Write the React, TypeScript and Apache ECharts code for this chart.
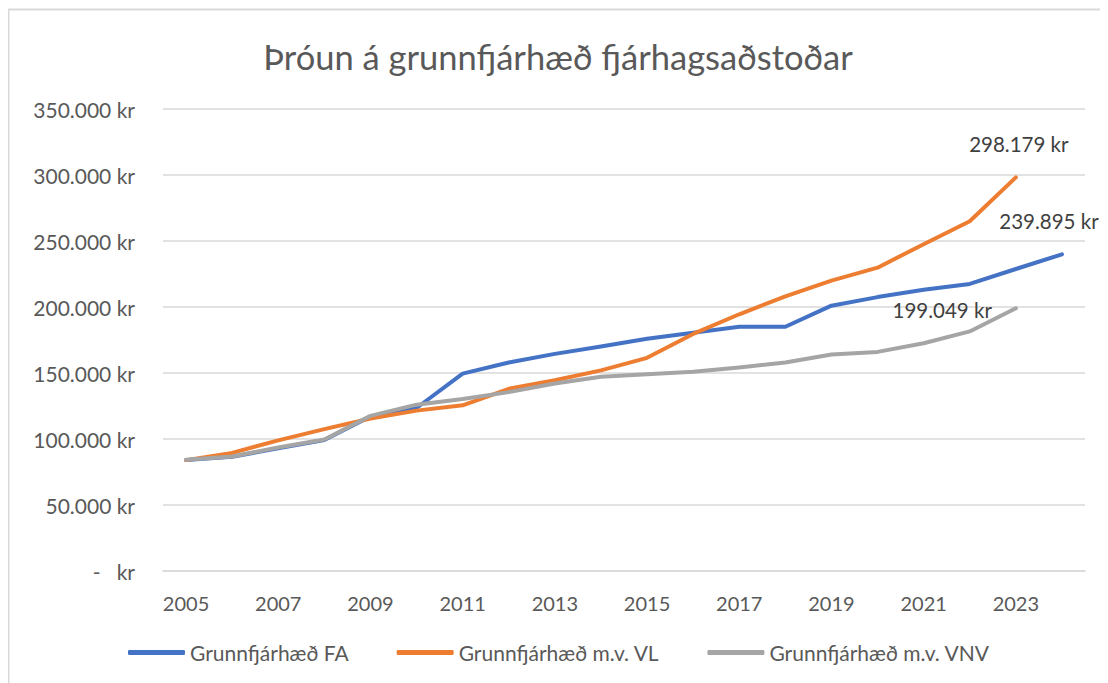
import React, { useEffect, useRef } from "react";
import * as echarts from "echarts";

const years = ["2005","2006","2007","2008","2009","2010","2011","2012","2013","2014","2015","2016","2017","2018","2019","2020","2021","2022","2023","2024"];
const seriesFA = [84000, 86500, 93000, 99300, 117000, 123500, 149500, 158000, 164500, 170000, 176000, 180500, 185000, 185000, 201000, 207500, 213000, 217500, 228800, 239895];
const seriesVL = [84000, 89500, 99000, 107500, 115500, 121500, 125500, 138000, 144500, 152000, 161500, 179600, 194500, 208000, 220000, 229800, 247600, 265000, 298179];
const seriesVNV = [84300, 86800, 93500, 99600, 117500, 126000, 130300, 135500, 142000, 147200, 149000, 151000, 154200, 158000, 164000, 166000, 172500, 181500, 199049];
const names = ["Grunnfjárhæð FA", "Grunnfjárhæð m.v. VL", "Grunnfjárhæð m.v. VNV"];
const colors = ["#4472C4", "#ED7D31", "#A5A5A5"];

const FONT = "Lato";

function fmt(v: number): string {
  if (v === 0) return "-   kr";
  const s = Math.round(v).toString().replace(/\B(?=(\d{3})+(?!\d))/g, ".");
  return s + " kr";
}

function withLastLabel(vals: number[], label: any) {
  return vals.map((v, i) =>
    i === vals.length - 1 ? { value: v, label: { show: true, ...label } } : v
  );
}

export default function App() {
  const ref = useRef<HTMLDivElement>(null);
  useEffect(() => {
    if (!ref.current) return;
    const chart = echarts.init(ref.current, undefined, { renderer: "svg" });
    const labelBase = {
      formatter: (p: any) => fmt(p.value),
      color: "#404040",
      fontSize: 20.5,
      fontFamily: FONT,
    };
    const lineSeries = (idx: number, vals: number[], label: any) => ({
      name: names[idx],
      type: "line",
      data: withLastLabel(vals, { ...labelBase, ...label }),
      showSymbol: true,
      symbol: "circle",
      symbolSize: 0,
      lineStyle: { color: colors[idx], width: 4, cap: "round", join: "round" },
      itemStyle: { color: colors[idx] },
      emphasis: { disabled: true },
      z: 3 + idx,
    });
    chart.setOption({
      animation: false,
      backgroundColor: "#ffffff",
      title: {
        text: "Þróun á grunnfjárhæð fjárhagsaðstoðar",
        left: "center",
        top: 26,
        textStyle: { fontFamily: FONT, fontSize: 34.5, fontWeight: "normal", color: "#595959" },
      },
      grid: { left: 155, right: 23, top: 101, bottom: 112 },
      legend: {
        data: names,
        bottom: 15,
        left: 115,
        itemWidth: 57,
        itemHeight: 5,
        itemGap: 48,
        icon: "roundRect",
        textStyle: { fontFamily: FONT, fontSize: 21, color: "#595959" },
      },
      xAxis: {
        type: "category",
        data: years,
        boundaryGap: true,
        axisLine: { lineStyle: { color: "#D9D9D9", width: 1.5 } },
        axisTick: { show: false },
        axisLabel: { interval: 1, margin: 22, fontFamily: FONT, fontSize: 20, color: "#595959" },
      },
      yAxis: {
        type: "value",
        min: 0,
        max: 350000,
        interval: 50000,
        axisLine: { show: false },
        axisTick: { show: false },
        splitLine: { lineStyle: { color: "#D9D9D9", width: 1.5 } },
        axisLabel: { margin: 28, fontFamily: FONT, fontSize: 21, color: "#595959", formatter: fmt },
      },
      graphic: [
        {
          type: "polyline",
          shape: { points: [[0.5, 1200], [0.5, 1.5], [1200, 1.5]] },
          style: { stroke: "#D9D9D9", lineWidth: 2, fill: "none" },
          silent: true,
        },
      ],
      series: [
        lineSeries(0, seriesFA, { position: "top", distance: 5, offset: [-13, -18] }),
        lineSeries(1, seriesVL, { position: "top", distance: 5, offset: [3, -18] }),
        lineSeries(2, seriesVNV, { position: "left", distance: 5, offset: [-19, 2] }),
      ],
    });
    return () => chart.dispose();
  }, []);
  return <div ref={ref} style={{ width: 1100, height: 675 }} />;
}
